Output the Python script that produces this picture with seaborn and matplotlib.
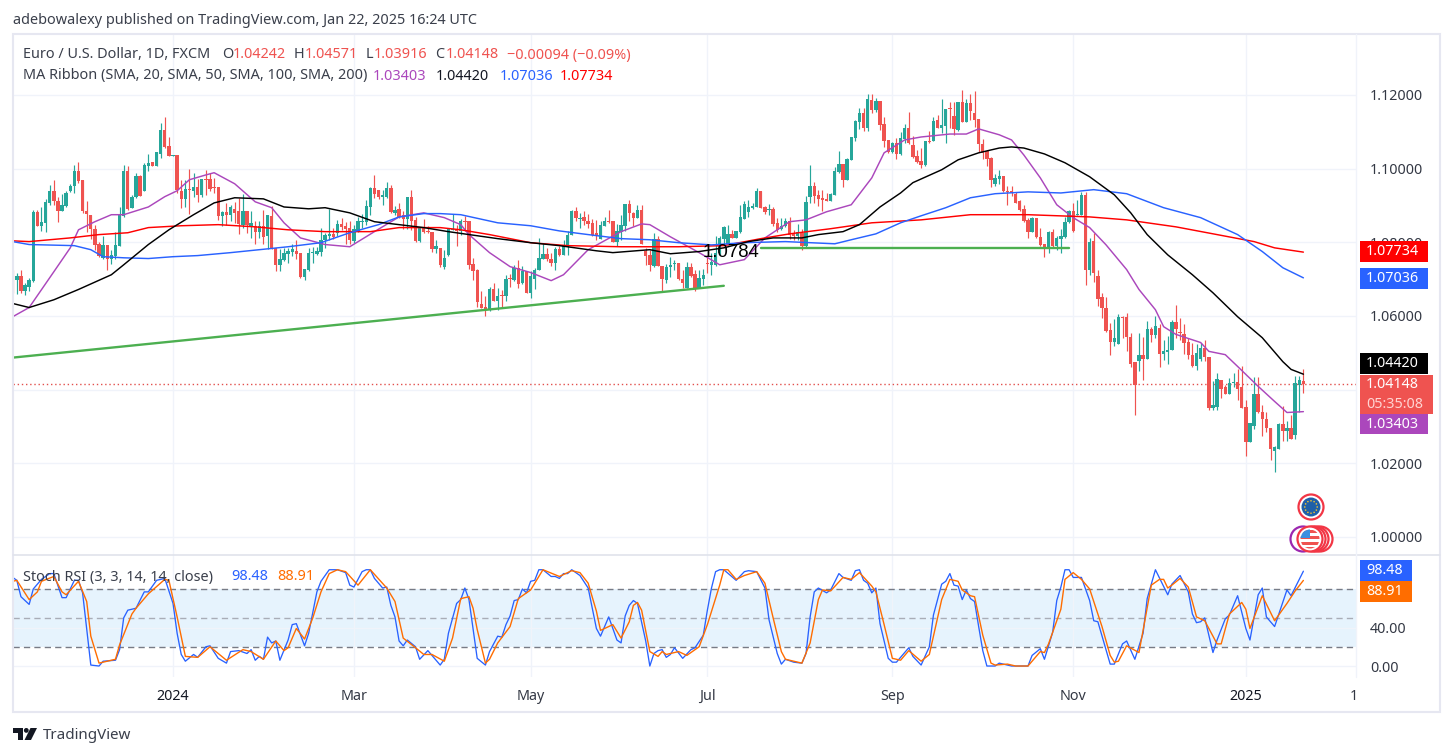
import numpy as np
import pandas as pd
import seaborn as sns
import matplotlib
matplotlib.use("Agg")
import matplotlib.pyplot as plt
from matplotlib.patches import Rectangle, Circle, Polygon

# Daily EUR/USD quotes, held as pips above parity (1.0000).
open_pips = [
    718,698,709,667,680,696,881,845,852,908,
    940,912,885,899,940,953,994,969,885,875,
    837,795,757,793,755,762,791,872,994,894,
    922,980,938,1008,1018,1006,1040,1105,1062,1035,
    1037,938,918,945,940,950,929,972,972,950,
    949,872,883,875,891,884,848,884,841,843,
    829,845,816,872,784,739,753,769,774,777,
    771,707,726,771,768,774,805,818,822,825,
    850,845,838,804,831,855,854,897,948,943,
    923,923,948,879,891,875,863,923,861,804,
    839,832,828,782,784,734,766,834,836,830,
    859,859,742,726,633,624,617,674,642,658,
    653,703,697,730,689,721,662,700,724,755,
    769,755,744,782,766,792,821,886,863,868,
    857,852,825,810,845,857,859,800,827,843,
    905,879,867,888,777,766,736,809,736,698,
    732,740,744,700,676,734,715,677,701,744,
    739,739,771,810,796,823,811,828,864,881,
    892,897,940,897,887,891,852,836,843,857,
    822,818,825,789,922,953,928,920,918,911,
    928,990,1013,970,1024,1083,1128,1152,1111,1186,
    1159,1185,1121,1078,1044,1069,1039,1081,1110,1064,
    1035,1021,1009,1075,1075,1132,1110,1116,1163,1144,
    1106,1180,1128,1179,1151,1135,1068,1048,1028,959,
    973,981,939,938,931,911,891,861,828,867,
    814,795,781,829,790,809,815,854,884,874,
    873,928,725,804,708,651,623,563,529,525,
    598,596,544,474,477,495,484,566,549,567,
    496,503,507,585,554,551,529,495,464,482,
    512,490,350,354,427,408,389,417,422,406,
    354,259,301,389,340,319,297,233,239,308,
    287,296,276,414,424.2]
high_pips = [
    724,716,725,689,703,888,888,895,917,956,
    968,922,931,940,957,1010,1018,969,912,875,
    847,802,818,793,780,828,897,1010,1006,929,
    988,983,1015,1040,1018,1046,1123,1139,1085,1037,
    1037,968,969,998,988,972,972,997,988,974,
    951,884,906,902,909,920,932,884,886,857,
    858,888,875,899,784,782,784,784,796,807,
    771,728,785,787,787,839,825,890,839,861,
    866,854,857,847,870,876,915,950,983,943,
    942,963,956,899,908,884,923,942,870,841,
    863,845,828,807,784,780,836,878,848,863,
    872,859,757,727,667,655,680,689,676,670,
    712,715,739,753,735,721,721,730,811,798,
    784,771,787,789,807,830,888,896,879,884,
    878,863,861,859,868,888,859,849,875,905,
    915,881,902,902,784,780,825,818,736,742,
    759,753,745,725,746,745,725,725,727,766,
    771,816,816,843,847,834,832,902,911,915,
    908,947,940,899,904,897,867,867,867,870,
    834,849,836,926,1010,965,942,942,933,935,
    1004,1048,1013,1030,1087,1132,1165,1164,1202,1202,
    1191,1185,1141,1078,1072,1084,1099,1120,1155,1090,
    1051,1055,1075,1101,1139,1146,1189,1162,1180,1182,
    1180,1214,1189,1202,1211,1135,1080,1051,1033,985,
    997,981,954,953,936,915,900,867,870,867,
    838,795,831,837,816,837,870,888,906,915,
    936,937,811,826,726,662,652,581,592,606,
    601,608,554,474,554,543,587,570,599,577,
    536,545,590,631,595,577,540,527,525,527,
    534,490,423,445,427,414,432,444,457,464,
    373,310,435,435,357,340,297,248,310,355,
    314,330,437,437,457.1]
low_pips = [
    662,660,662,657,667,693,845,832,827,900,
    902,854,884,897,936,935,960,879,829,809,
    780,760,754,724,742,755,791,870,888,893,
    920,926,938,995,1006,1006,1030,1057,1035,1035,
    933,894,897,877,922,909,924,929,938,933,
    861,845,847,859,852,823,839,825,811,796,
    811,796,782,783,723,723,748,744,762,756,
    703,697,721,745,766,762,784,805,810,816,
    834,796,796,798,829,839,848,875,920,917,
    902,920,879,873,866,836,836,834,801,801,
    825,825,773,771,733,727,764,834,791,821,
    830,727,698,624,622,601,613,640,615,624,
    640,680,694,676,688,662,649,673,724,755,
    748,736,726,764,766,766,821,857,839,848,
    839,818,805,810,843,852,801,789,805,832,
    857,843,866,796,739,721,733,737,669,689,
    707,725,698,676,676,707,667,676,685,716,
    710,736,766,793,793,811,811,825,863,870,
    890,897,894,877,875,845,828,834,841,809,
    807,805,778,787,908,906,899,884,911,911,
    928,988,951,970,1024,1074,1108,1101,1103,1152,
    1155,1105,1060,1042,1042,1026,1037,1069,1066,1030,
    1015,1003,1006,1069,1075,1110,1096,1071,1110,1092,
    1103,1126,1126,1132,1114,1046,1026,1008,951,954,
    959,936,900,927,906,885,856,813,827,813,
    791,761,771,786,778,771,813,852,829,873,
    873,685,712,691,628,595,556,495,518,525,
    540,506,462,332,450,426,484,529,540,461,
    480,471,507,540,536,498,482,462,453,477,
    479,344,346,344,378,387,389,408,371,351,
    221,257,294,337,274,285,210,176,239,260,
    260,265,265,339,391.6]
close_pips = [
    698,709,667,685,698,881,845,854,909,940,
    911,886,902,935,953,995,967,884,877,836,
    793,762,794,755,766,793,875,995,891,922,
    981,926,1010,1015,1006,1044,1105,1060,1035,1037,
    942,918,945,941,950,929,972,970,944,947,
    872,883,875,897,880,849,886,848,852,829,
    843,815,873,783,739,755,771,777,782,769,
    707,728,771,773,777,807,820,822,814,850,
    841,836,805,836,857,858,899,948,932,923,
    929,948,881,888,868,863,923,857,804,839,
    829,827,782,791,739,757,836,837,832,859,
    856,739,723,637,622,615,674,642,653,653,
    701,700,730,688,721,662,708,726,757,769,
    755,745,783,766,793,821,886,865,866,857,
    850,821,819,847,857,854,801,830,848,905,
    879,866,888,796,764,739,809,737,701,734,
    739,742,700,689,734,709,676,703,712,741,
    747,771,813,841,823,811,831,870,904,895,
    899,940,894,881,891,850,834,845,857,820,
    818,827,790,909,953,926,918,914,913,930,
    994,1013,970,1026,1086,1130,1152,1110,1189,1159,
    1185,1119,1075,1044,1069,1040,1083,1110,1069,1032,
    1018,1009,1075,1073,1130,1111,1119,1162,1161,1108,
    1180,1128,1179,1157,1132,1066,1042,1026,969,975,
    979,938,936,933,908,888,859,828,867,814,
    793,781,829,790,813,818,856,884,830,877,
    928,725,802,718,647,621,560,529,539,598,
    594,542,471,412,495,484,566,549,574,497,
    506,509,585,564,553,526,493,464,499,512,
    488,350,357,430,403,389,419,418,403,351,
    259,309,389,339,319,295,238,243,308,287,
    296,265,417,425,414.8]

# Moving averages: bar number and level in pips.
sma20_bar = [0,4,10,14,16,20,24,27,33,37,40,43,47,49,54,59,63,66,70,76,82,88,94,100,105,109,111,116,121,126,131,134,140,148,153,155,160,167,172,178,183,189,193,198,204,209,212,217,221,228,232,235,240,243,246,250,254,258,262,266,271,274,278,280,283,289,291,295,298,303,307,310,314]
sma20_pips = [598,623,720,785,834,856,875,875,896,924,940,970,983,989,959,910,894,853,812,794,788,829,869,880,867,848,821,772,734,718,696,712,780,829,850,848,815,772,739,753,812,856,861,883,902,975,1043,1078,1086,1094,1094,1108,1092,1078,1037,975,902,867,840,793,726,672,617,571,550,528,504,495,463,409,368,338,340.3]
sma50_bar = [0,4,10,16,24,27,33,38,44,49,54,61,66,72,76,82,88,94,100,106,118,126,133,142,146,155,160,167,173,179,185,192,196,202,206,211,216,219,226,230,235,240,243,246,251,256,262,268,272,276,281,287,292,298,304,309,311,314]
sma50_pips = [634,623,644,672,712,739,794,834,875,907,921,918,896,891,894,880,856,848,840,829,810,799,791,777,772,780,769,775,785,802,812,812,821,829,848,896,934,962,997,1024,1043,1056,1059,1056,1040,1016,978,929,880,821,766,712,663,598,541,476,455,442.0]
sma100_bar = [0,4,15,19,22,27,33,39,45,53,60,67,75,82,89,94,100,104,109,118,126,133,140,148,155,162,170,178,188,194,200,204,210,216,221,227,233,239,247,255,263,271,280,289,298,304,309,314]
sma100_pips = [802,794,791,780,761,758,756,761,764,772,780,788,799,826,848,869,878,878,875,853,845,831,821,810,807,799,793,799,802,799,796,807,823,853,872,894,921,932,937,934,943,932,894,867,821,775,731,703.6]
sma200_bar = [0,4,14,21,28,33,41,50,59,67,76,87,94,104,109,116,126,135,148,162,173,182,189,199,209,221,233,247,262,271,283,293,302,307,314]
sma200_pips = [804,802,812,821,826,840,845,848,842,834,829,829,840,840,834,821,799,791,788,788,791,810,823,837,853,861,875,875,869,861,842,821,802,785,773.4]

# Hand-drawn trend lines.
rising_line_bar = [0, 173]
rising_line_pips = [487, 682]
flat_line_bar = [182, 257]
flat_line_pips = [784, 784]

# Stochastic RSI lines.
stoch_k_bar = [0,1,2,4,5,7,9,10,12,13,15,16,17,19,21,22,25,26,27,28,30,32,33,35,37,39,40,41,42,44,45,47,48,50,52,53,55,57,58,59,60,61,62,63,64,65,67,68,69,71,72,74,75,77,79,81,82,83,85,86,87,88,90,91,92,93,94,95,96,98,99,101,104,105,106,108,109,110,111,113,115,116,118,119,120,121,122,123,124,125,126,127,128,129,131,132,133,134,135,136,138,140,142,143,145,147,148,149,150,151,152,154,155,156,157,158,159,160,161,163,165,166,168,169,170,171,172,173,176,178,179,181,183,184,186,187,188,190,192,193,194,195,196,198,199,201,202,204,205,206,207,208,209,210,211,213,214,215,218,219,221,223,224,226,227,228,229,230,231,232,233,234,235,236,237,239,240,243,247,248,250,251,253,254,255,256,257,258,260,262,263,264,267,268,270,271,273,275,276,278,281,282,284,286,287,288,289,290,292,293,295,296,298,300,301,303,304,305,307,310,311,314]
stoch_k = [92,89,72,64,80,90,96,96,71,71,89,89,76,1,0,5,6,17,50,58,60,77,77,89,91,65,34,12,5,12,9,20,21,8,3,15,16,13,17,6,10,7,30,24,26,6,27,43,44,21,34,77,88,100,100,97,84,82,98,100,100,91,81,82,63,51,26,21,27,20,7,16,1,7,34,65,69,81,69,8,1,15,31,30,43,52,68,69,80,76,88,89,100,100,93,93,91,96,96,100,94,81,39,31,51,27,24,52,63,68,65,26,0,13,16,17,9,12,19,8,17,19,32,58,81,98,100,100,89,98,99,98,81,48,13,2,7,4,3,13,51,77,81,76,79,96,92,89,99,100,89,86,76,81,44,8,4,4,19,10,1,20,53,85,88,96,84,83,69,79,70,67,41,16,0,0,3,0,0,11,18,7,35,68,82,100,100,92,92,68,47,46,2,2,23,26,7,34,70,100,74,85,94,77,54,45,46,50,14,27,49,53,73,39,27,74,81,51,41,79,73,98.48]
stoch_d_bar = [0,1,4,6,7,10,12,13,16,18,19,21,25,26,29,30,33,37,38,40,42,45,48,52,56,58,61,64,66,67,69,71,73,75,77,79,81,84,87,91,93,95,98,100,102,105,107,109,111,112,113,115,116,118,121,123,126,129,133,136,138,140,142,143,146,148,150,151,152,153,155,157,158,159,162,164,167,169,172,173,174,176,178,181,183,185,187,188,192,194,196,197,199,202,204,206,209,210,212,214,216,218,221,223,226,228,230,231,233,234,236,238,239,242,244,247,250,251,252,255,256,258,260,262,265,267,268,269,271,274,275,277,279,280,281,282,284,286,288,290,293,294,296,299,300,301,304,307,310,312,314]
stoch_d = [88,89,69,77,88,93,77,74,88,67,31,3,7,22,54,60,75,90,89,51,10,9,20,6,17,15,7,26,16,19,39,28,50,77,96,100,98,84,100,81,67,29,19,12,12,5,29,70,72,60,38,3,7,24,41,70,79,100,93,99,97,86,57,37,43,29,46,63,66,58,15,10,15,12,15,11,20,43,84,100,100,90,94,98,86,50,15,7,3,24,69,79,78,92,90,97,83,77,43,8,6,16,5,12,69,90,88,79,73,72,32,3,1,2,0,0,15,14,23,59,90,97,90,80,41,11,4,5,21,14,37,84,90,90,81,84,91,82,51,47,23,23,54,66,59,39,73,47,65,78,88.91]

# Axis tick values and labels.
price_ticks = [1.00, 1.02, 1.04, 1.06, 1.08, 1.10, 1.12]
covered_price_ticks = {1.04}
stoch_ticks = [0, 40]
date_bars = [39, 83, 126, 169, 214, 258, 300, 327.4]
date_labels = ["2024", "Mar", "May", "Jul", "Sep", "Nov", "2025", "10"]
bold_dates = {"2024", "2025"}

# Current readings and the quote header.
day_change = "\u22120.00094 (\u22120.09%)"
countdown = "05:35:08"
publish_note = "adebowalexy published on TradingView.com, Jan 22, 2025 16:24 UTC"

W, H = 1453, 756
UP, DOWN = "#26a69a", "#ef5350"
GRID = "#f0f3fa"
TEXT = "#131722"
PURPLE, BLUE, RED, ORANGE = "#ab47bc", "#2962ff", "#ff0000", "#ff6d00"

sns.set_theme(style="white")
plt.rcParams["font.family"] = ["Noto Sans", "DejaVu Sans"]


def pane(x0, y0, x1, y1, **kw):
    """Axes covering a pixel box given from the top-left corner."""
    return fig.add_axes([x0 / W, 1 - y1 / H, (x1 - x0) / W, (y1 - y0) / H], **kw)


def to_price(pips):
    return 1 + np.asarray(pips, dtype=float) / 10000


fig = plt.figure(figsize=(W / 100, H / 100), dpi=100, facecolor="white")

candles = pd.DataFrame({
    "bar": np.arange(len(close_pips)),
    "open": to_price(open_pips),
    "high": to_price(high_pips),
    "low": to_price(low_pips),
    "close": to_price(close_pips),
})
candles["colour"] = np.where(candles["close"] >= candles["open"], UP, DOWN)

BAR_LIMITS = (0.07, 326.8)

# Price pane
ax = pane(13, 34, 1356, 555)
ax.set_xlim(*BAR_LIMITS)
ax.set_ylim(0.99511, 1.13656)
ax.set_yticks(price_ticks)
ax.set_yticklabels(["" if t in covered_price_ticks else f"{t:.5f}" for t in price_ticks],
                   color="#333844", fontsize=10.3)
ax.yaxis.tick_right()
ax.tick_params(axis="y", length=0, pad=10)
ax.set_xticks(date_bars[:-1])
ax.set_xticklabels([])
ax.tick_params(axis="x", length=0)
ax.grid(True, color=GRID, lw=1.0)
ax.set_axisbelow(True)
for s in ax.spines.values():
    s.set_visible(False)

ax.vlines(candles["bar"], candles["low"], candles["high"], colors=candles["colour"], lw=0.85, zorder=2)
body_bottom = candles[["open", "close"]].min(axis=1)
body_height = (candles["open"] - candles["close"]).abs().clip(lower=0.00028)
ax.bar(candles["bar"], body_height, bottom=body_bottom, width=0.82, color=candles["colour"], linewidth=0, zorder=3)

for bars, pips, colour in [
    (sma20_bar, sma20_pips, PURPLE),
    (sma200_bar, sma200_pips, RED),
    (sma100_bar, sma100_pips, BLUE),
    (sma50_bar, sma50_pips, "black"),
]:
    sns.lineplot(x=bars, y=to_price(pips), color=colour, lw=1.05, ax=ax, errorbar=None,
                 estimator=None, sort=False, legend=False, zorder=4)

for bars, pips in [(rising_line_bar, rising_line_pips), (flat_line_bar, flat_line_pips)]:
    sns.lineplot(x=bars, y=to_price(pips), color="#4caf50", lw=1.7, ax=ax, errorbar=None,
                 estimator=None, sort=False, legend=False, zorder=4)
ax.text(flat_line_bar[0] - 0.4, to_price(flat_line_pips[0]) - 0.0011, f"{to_price(flat_line_pips[0]):.4f}",
        ha="right", va="center", fontsize=13.4, color="black", family="Liberation Sans", zorder=5)

last_close = candles["close"].iloc[-1]
ax.axhline(last_close, color="#e2504d", lw=1.0, ls=(0, (1, 2)), zorder=1.5)

# Stochastic RSI pane
osc = pane(13, 555, 1356, 677)
osc.set_xlim(*BAR_LIMITS)
osc.set_ylim(-11.4, 115.3)
osc.axhspan(20, 80, color="#2196f3", alpha=0.11, lw=0, zorder=0.5)
osc.set_yticks(stoch_ticks)
osc.set_yticklabels([f"{t:.2f}" for t in stoch_ticks], color="#333844", fontsize=10.3)
osc.yaxis.tick_right()
osc.tick_params(axis="y", length=0, pad=10)
osc.set_xticks(date_bars[:-1])
osc.set_xticklabels([])
osc.tick_params(axis="x", length=0)
osc.grid(True, color=GRID, lw=1.0)
osc.set_axisbelow(True)
for s in osc.spines.values():
    s.set_visible(False)
osc.axhline(80, color="#787b86", lw=1.0, ls=(0, (4.5, 3)), zorder=1)
osc.axhline(20, color="#787b86", lw=1.0, ls=(0, (4.5, 3)), zorder=1)
osc.axhline(50, color="#a9adb7", lw=1.0, ls=(0, (4.5, 3)), zorder=1)
sns.lineplot(x=stoch_k_bar, y=stoch_k, color=BLUE, lw=0.95, ax=osc, errorbar=None,
             estimator=None, sort=False, legend=False, zorder=3)
sns.lineplot(x=stoch_d_bar, y=stoch_d, color=ORANGE, lw=1.0, ax=osc, errorbar=None,
             estimator=None, sort=False, legend=False, zorder=4)

# Date scale
dates = pane(13, 677, 1356, 712)
dates.set_xlim(*BAR_LIMITS)
dates.set_ylim(35, 0)
dates.axis("off")
for bar, label in zip(date_bars, date_labels):
    dates.text(bar, 19.5, label, ha="center", va="center", fontsize=10.3, clip_on=True,
               fontweight="bold" if label in bold_dates else "normal",
               color=TEXT if label in bold_dates else "#333844")

# Frame, legends, price tags and the rest of the page furniture
top = fig.add_axes([0, 0, 1, 1], facecolor="none", zorder=10)
top.set_xlim(0, W)
top.set_ylim(H, 0)
top.axis("off")

top.add_patch(Rectangle((13, 34), 1427, 678, fc="none", ec="#e6e7f1", lw=1.5))
top.plot([13, 1440], [555, 555], color="#e0e3eb", lw=1.2)
top.plot([1356, 1356], [34, 677], color="#f0f3fa", lw=1.0)

LEGEND = 10.4


def words(x, y, text, colour=TEXT, size=LEGEND, **kw):
    top.text(x, y, text, color=colour, fontsize=size, va="center", ha="left", **kw)


words(13, 20.5, publish_note, "#3a3f4b", 10.4)
words(23, 55, "Euro / U.S. Dollar, 1D, FXCM", "#3a3f4b")
quote_colour = DOWN
for x, name, value in [
    (222, "O", open_pips[-1]), (294, "H", high_pips[-1]),
    (366, "L", low_pips[-1]), (435, "C", close_pips[-1]),
]:
    words(x, 55, name, "#3a3f4b")
    words(x + (8 if name == "L" else 11), 55, f"{to_price(value):.5f}", quote_colour)
words(507, 55, day_change, quote_colour)
words(23, 76, "MA Ribbon (SMA, 20, SMA, 50, SMA, 100, SMA, 200)", "#3a3f4b")
for x, pips, colour in [
    (373, sma20_pips, PURPLE), (436, sma50_pips, TEXT),
    (500, sma100_pips, BLUE), (560, sma200_pips, RED),
]:
    words(x, 76, f"{to_price(pips[-1]):.5f}", colour)
words(23, 577, "Stoch RSI (3, 3, 14, 14, close)", "#3a3f4b")
words(231, 577, f"{stoch_k[-1]:.2f}", BLUE)
words(277, 577, f"{stoch_d[-1]:.2f}", ORANGE)


def tag(y0, y1, text, colour, x1=1428):
    top.add_patch(Rectangle((1360, y0), x1 - 1360, y1 - y0, fc=colour, ec="none"))
    top.text(1366, (y0 + y1) / 2, text, color="white", fontsize=10.3, va="center", ha="left")


tag(241, 262, f"{to_price(sma200_pips[-1]):.5f}", RED)
tag(268, 289, f"{to_price(sma100_pips[-1]):.5f}", BLUE)
tag(353, 374, f"{to_price(sma50_pips[-1]):.5f}", "black")
tag(414, 434, f"{to_price(sma20_pips[-1]):.5f}", PURPLE)
top.add_patch(Rectangle((1360, 375), 73, 39, fc=DOWN, ec="none"))
top.text(1366, 385, f"{last_close:.5f}", color="white", fontsize=10.3, va="center")
top.text(1366, 404, countdown, color="#ffd5d3", fontsize=10.3, va="center")
tag(560, 581, f"{stoch_k[-1]:.2f}", BLUE, 1412)
tag(581, 602, f"{stoch_d[-1]:.2f}", ORANGE, 1412)

# Economic calendar badges
top.add_patch(Circle((1311, 507), 12.5, fc="white", ec="#f23645", lw=1.6, zorder=3))
top.add_patch(Circle((1311, 507), 9.5, fc="#1f5fa8", ec="none", zorder=4))
for a in np.radians(np.arange(0, 360, 30)):
    top.add_patch(Circle((1311 + 6.2 * np.cos(a), 507 + 6.2 * np.sin(a)), 0.8, fc="#f2c230", ec="none", zorder=5))

for cx, colour in [(1303, "#9c27b0"), (1320, "#f23645"), (1316, "#f23645"), (1313, "#f23645"), (1310, "#f23645")]:
    top.add_patch(Circle((cx, 539), 12.5, fc="white", ec=colour, lw=1.6, zorder=3))
flag = Circle((1310, 539), 9.5, fc="white", ec="none", zorder=4)
top.add_patch(flag)
for y in [531, 537, 543, 548]:
    stripe = Rectangle((1298, y - 1.3), 24, 2.8, fc="#ef5350", ec="none", zorder=5)
    top.add_patch(stripe)
    stripe.set_clip_path(flag)
canton = Rectangle((1298, 528), 12, 10, fc="#3d8fe0", ec="none", zorder=6)
top.add_patch(canton)
canton.set_clip_path(flag)

# Wordmark in the bottom corner
top.add_patch(Polygon([(13, 728), (22.5, 728), (22.5, 740), (17.5, 740), (17.5, 733), (13, 733)], fc=TEXT, ec="none"))
top.add_patch(Circle((26.3, 730.4), 2.4, fc=TEXT, ec="none"))
top.add_patch(Polygon([(30.5, 728), (37, 728), (31, 740), (24.5, 740)], fc=TEXT, ec="none"))
words(43, 735.5, "TradingView", "#3a3f4b", 10.9)

fig.savefig("out.png", dpi=100)
